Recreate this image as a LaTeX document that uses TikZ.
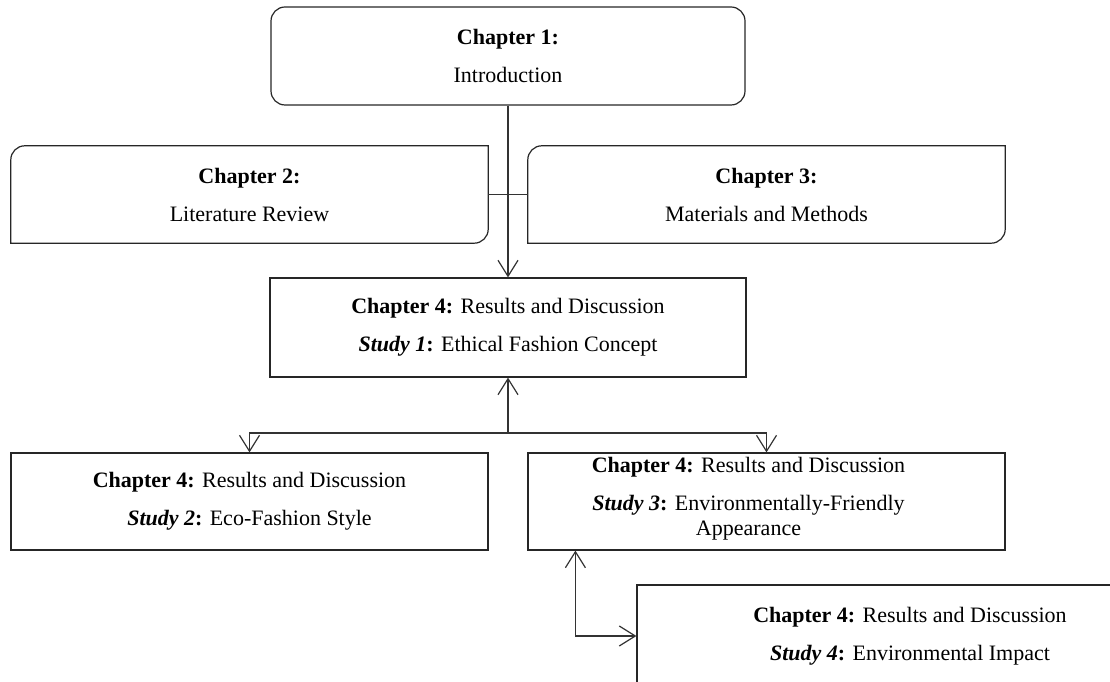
\documentclass[tikz,border=0pt]{standalone}
\usepackage{fontspec}
\setmainfont{Liberation Serif}
\usetikzlibrary{arrows.meta}
\begin{document}
\begin{tikzpicture}[x=1pt,y=1pt,
  boxtext/.style={font=\fontsize{22}{25}\selectfont, align=center, inner sep=0pt},
  sizedbox/.style={boxtext, minimum width=477pt, minimum height=97pt},
  plainbox/.style={sizedbox, draw=black!85, line width=1.2pt},
  outline/.style={draw=black!85, line width=1.2pt},
  link/.style={draw=black!80, line width=1.2pt},
  barb/.style={-{Straight Barb[length=16pt,width=20pt,line width=1.2pt]}},
  twobarb/.style={{Straight Barb[length=16pt,width=20pt,line width=1.2pt]}-{Straight Barb[length=16pt,width=20pt,line width=1.2pt]}}
]
\useasboundingbox (0,0) rectangle (1110,682);
\clip (0,0) rectangle (1110,682);

% chapter boxes
\node[boxtext, draw=black!85, line width=1.2pt, rounded corners=14pt,
      minimum width=474pt, minimum height=98pt] (c1) at (508,626)
  {\textbf{Chapter 1:}\\[13pt]Introduction};
\node[sizedbox] (c2) at (249.5,487.5) {\textbf{Chapter 2:}\\[13pt]Literature Review};
\node[sizedbox] (c3) at (766.5,487.5) {\textbf{Chapter 3:}\\[13pt]Materials and Methods};

% top-left and bottom-right corners rounded
\draw[outline] (c2.north east) -- ([xshift=14pt]c2.north west)
  arc[start angle=90,end angle=180,radius=14pt] -- (c2.south west)
  -- ([xshift=-14pt]c2.south east) arc[start angle=270,end angle=360,radius=14pt] -- cycle;
\draw[outline] (c3.north east) -- ([xshift=14pt]c3.north west)
  arc[start angle=90,end angle=180,radius=14pt] -- (c3.south west)
  -- ([xshift=-14pt]c3.south east) arc[start angle=270,end angle=360,radius=14pt] -- cycle;

% study boxes
\node[plainbox, minimum width=476pt, minimum height=99pt] (s1) at (508,354.5)
  {\textbf{Chapter 4:} Results and Discussion\\[13pt]\textbf{\textit{Study 1}:} Ethical Fashion Concept};
\node[plainbox] (s2) at (249.5,180.5)
  {\textbf{Chapter 4:} Results and Discussion\\[13pt]\textbf{\textit{Study 2}:} Eco-Fashion Style};
\node[plainbox] (s3) at (766.5,180.5) {};
\node[boxtext] (s3t) at ([xshift=-18pt,yshift=3pt]s3.center)
  {\textbf{Chapter 4:} Results and Discussion\\[13pt]\textbf{\textit{Study 3}:} Environmentally-Friendly\\Appearance};
\node[plainbox, minimum width=546pt, minimum height=102pt] (s4) at (910,46)
  {\textbf{Chapter 4:} Results and Discussion\\[13pt]\textbf{\textit{Study 4}:} Environmental Impact};

% connectors
\draw[link] (c2.east) -- (c3.west);
\draw[link,barb] (c1.south) -- (s1.north);
\coordinate (fork) at (508,249);
\draw[link,barb] (fork) -- (s1.south);
\draw[link,barb] (fork) -| (s2.north);
\draw[link,barb] (fork) -| (s3.north);
\coordinate (bend) at ([xshift=48pt]s3.south west |- s4.west);
\draw[link,twobarb] ([xshift=48pt]s3.south west) -- (bend) -- (s4.west);
\end{tikzpicture}
\end{document}
